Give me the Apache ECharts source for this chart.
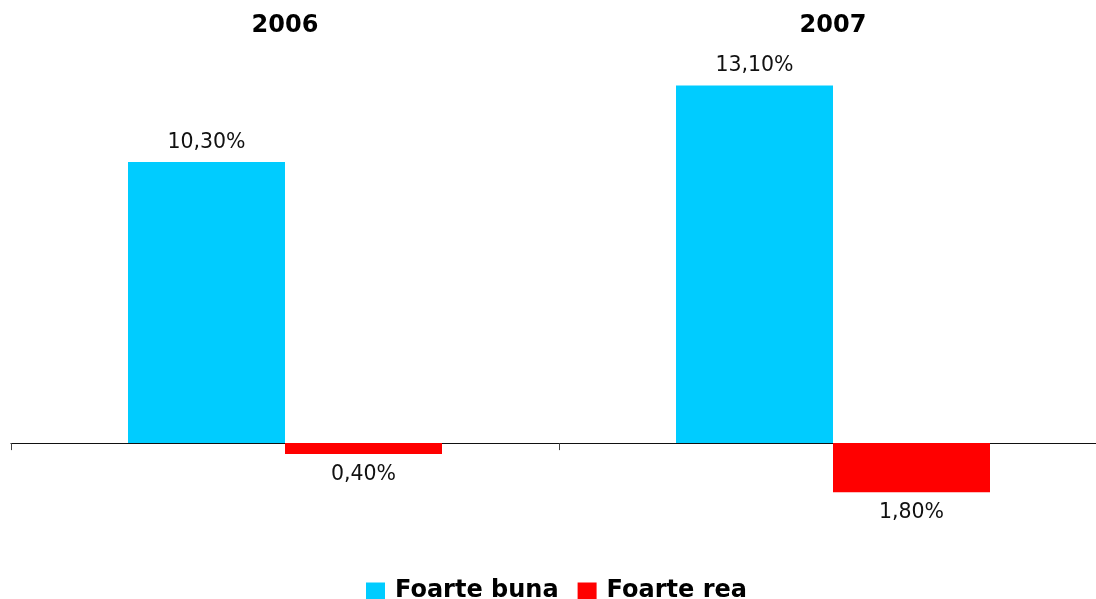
<!DOCTYPE html>
<html>
<head>
<meta charset="utf-8">
<script src="https://cdn.jsdelivr.net/npm/echarts@6/dist/echarts.min.js"></script>
<style>
html,body{margin:0;padding:0;background:#fff;}
#chart{width:1096px;height:599px;}
</style>
</head>
<body>
<div id="chart"></div>
<script>
const categories = ['2006', '2007'];
const seriesNames = ['Foarte buna', 'Foarte rea'];
const foarteBuna = [10.3, 13.1];
const foarteRea = [-0.4, -1.8];

function fmt(p) {
  return Math.abs(p.value).toFixed(2).replace('.', ',') + '%';
}

const chart = echarts.init(document.getElementById('chart'), null, {renderer: 'canvas'});
chart.setOption({
  animation: false,
  backgroundColor: '#ffffff',
  grid: {left: 11, width: 1096, top: 61, height: 464, containLabel: false, outerBoundsMode: 'none'},
  legend: {
    data: seriesNames,
    top: 579,
    left: 366,
    padding: 0,
    icon: 'rect',
    itemWidth: 19,
    itemHeight: 17,
    itemGap: 19,
    textStyle: {fontFamily: 'DejaVu Sans', fontWeight: 'bold', fontSize: 24, color: '#000', padding: [0, 0, 0, 5]}
  },
  xAxis: [
    {
      type: 'category',
      data: categories,
      position: 'bottom',
      axisLine: {onZero: true, lineStyle: {color: '#111', width: 1.2}},
      axisTick: {show: true, length: 7, lineStyle: {color: '#444'}},
      axisLabel: {show: false}
    },
    {
      type: 'category',
      data: categories,
      position: 'top',
      axisLine: {show: false},
      axisTick: {show: false},
      axisLabel: {
        margin: 23,
        fontFamily: 'DejaVu Sans',
        fontWeight: 'bold',
        fontSize: 24,
        color: '#000'
      }
    }
  ],
  yAxis: {
    type: 'value',
    min: -3,
    max: 14,
    show: false,
    splitLine: {show: false}
  },
  series: [
    {
      name: seriesNames[0],
      type: 'bar',
      data: foarteBuna,
      barWidth: 157,
      barGap: '0%',
      itemStyle: {color: '#00CCFF'},
      label: {
        show: true,
        position: 'top',
        distance: 9,
        formatter: fmt,
        fontFamily: 'DejaVu Sans',
        fontSize: 20.5,
        color: '#111'
      }
    },
    {
      name: seriesNames[1],
      type: 'bar',
      data: foarteRea,
      barWidth: 157,
      barGap: '0%',
      itemStyle: {color: '#FF0000'},
      label: {
        show: true,
        position: 'bottom',
        distance: 10,
        formatter: fmt,
        fontFamily: 'DejaVu Sans',
        fontSize: 20.5,
        color: '#111'
      }
    }
  ]
});
</script>
</body>
</html>
